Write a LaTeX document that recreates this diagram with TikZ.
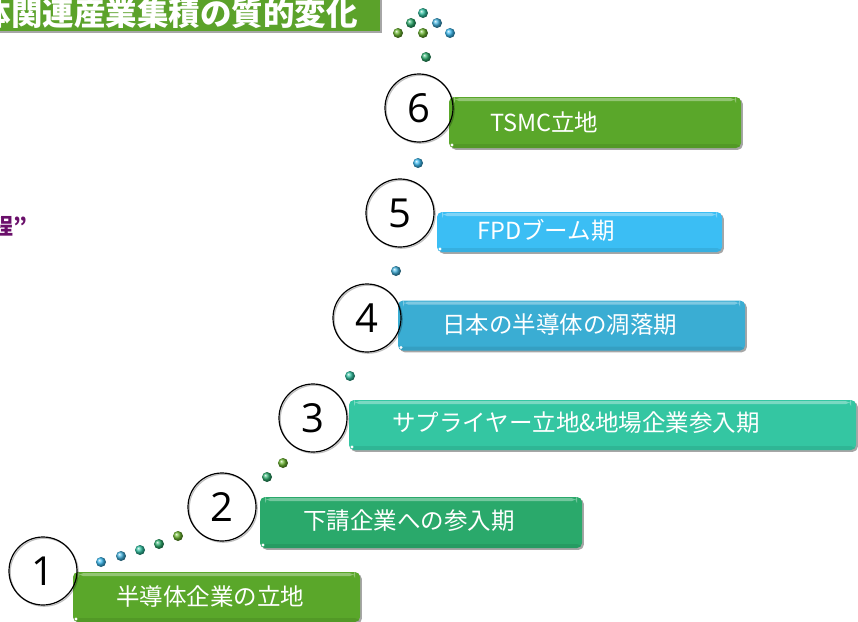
\documentclass[tikz,border=0pt]{standalone}
\usepackage{fontspec}
\newfontfamily\jp{Noto Sans CJK JP}
\newfontfamily\numf{Open Sans}
\usetikzlibrary{shadows}
\definecolor{gA}{HTML}{5AA72A}
\definecolor{gB}{HTML}{2AA96B}
\definecolor{gC}{HTML}{34C6A2}
\definecolor{gD}{HTML}{3AADD3}
\definecolor{gE}{HTML}{3BBEF4}
\definecolor{ttl}{HTML}{5BA22A}
\definecolor{purp}{HTML}{6A0F6A}
\definecolor{dLB}{HTML}{3BBAF0}
\definecolor{dB}{HTML}{40B0DC}
\definecolor{dT}{HTML}{30C0A0}
\definecolor{dGT}{HTML}{2DAE6E}
\definecolor{dG}{HTML}{6AB52E}
\begin{document}
\begin{tikzpicture}[x=1pt,y=-1pt,
  stagebox/.style={rectangle, draw=none, rounded corners=5pt, inner sep=0pt,
    drop shadow={shadow xshift=1.8pt,shadow yshift=-1.8pt,opacity=0.35,fill=black},
    path picture={
      \fill[white,opacity=0.35] ([xshift=5pt,yshift=-1.2pt]path picture bounding box.north west) rectangle ([xshift=-5pt,yshift=-4pt]path picture bounding box.north east);
      \fill[black,opacity=0.08] ([yshift=4pt]path picture bounding box.south west) rectangle (path picture bounding box.south east);
      \fill[white] ([xshift=3pt,yshift=3pt]path picture bounding box.south west) circle (1.6pt);
    }},
  stagetext/.style={anchor=west, text=white, inner sep=0pt, font=\jp\fontsize{23.5}{25}\selectfont},
  numcirc/.style={circle, draw=black, line width=1.2pt, minimum size=68pt, inner sep=0pt, font=\numf\fontsize{40}{40}\selectfont,
    drop shadow={shadow xshift=1.2pt,shadow yshift=-1.2pt,opacity=0.25,fill=none,draw=black}},
  dot/.style={circle, draw=none, minimum size=10pt, inner sep=0pt, shading=ball}]
\useasboundingbox (0,0) rectangle (858,621);
\clip (0,0) rectangle (858,621);
\fill[white] (0,0) rectangle (858,621);

% title banner
\node[rectangle, fill=ttl, inner sep=0pt, minimum width=400pt, minimum height=42pt,
  drop shadow={shadow xshift=1.8pt,shadow yshift=-1.8pt,opacity=0.35,fill=black}] (banner) at (180,10) {};
\node[anchor=east, text=white, inner sep=0pt, font=\jp\bfseries\fontsize{31.5}{33}\selectfont] (title) at (358,14) {半導体関連産業集積の質的変化};

% purple text
\node[anchor=east, text=purp, inner sep=0pt, font=\jp\bfseries\fontsize{22}{23}\selectfont] (purple) at (28,226) {過程”};

% boxes
\node[stagebox, fill=gA, minimum width=287pt, minimum height=50pt] (b1) at (216.5,597) {};
\node[stagebox, fill=gB, minimum width=322pt, minimum height=51pt] (b2) at (421,522.5) {};
\node[stagebox, fill=gC, minimum width=507pt, minimum height=50pt] (b3) at (602.5,425) {};
\node[stagebox, fill=gD, minimum width=347pt, minimum height=50pt] (b4) at (571.5,325.5) {};
\node[stagebox, fill=gE, minimum width=285pt, minimum height=40pt] (b5) at (579.5,232) {};
\node[stagebox, fill=gA, minimum width=292pt, minimum height=51pt] (b6) at (595,122.5) {};

% texts
\node[stagetext] (t1) at (116,597) {半導体企業の立地};
\node[stagetext] (t2) at (303,521) {下請企業への参入期};
\node[stagetext] (t3) at (392,423) {サプライヤー立地\&地場企業参入期};
\node[stagetext] (t4) at (442,325) {日本の半導体の凋落期};
\node[stagetext] (t5) at (477,230) {FPDブーム期};
\node[stagetext] (t6) at (490,122) {TSMC立地};

% circles
\node[numcirc] (c1) at (43,571) {1};
\node[numcirc] (c2) at (222,507) {2};
\node[numcirc] (c3) at (313,418) {3};
\node[numcirc] (c4) at (367,318) {4};
\node[numcirc] (c5) at (400,213) {5};
\node[numcirc] (c6) at (419,108) {6};

% dots
\node[dot, ball color=dLB] (d1) at (101,562) {};
\node[dot, ball color=dB] (d2) at (121,556) {};
\node[dot, ball color=dT] (d3) at (140,550) {};
\node[dot, ball color=dGT] (d4) at (159,544) {};
\node[dot, ball color=dG] (d5) at (178,536) {};
\node[dot, ball color=dGT] (d6) at (267,477) {};
\node[dot, ball color=dG] (d7) at (283,463) {};
\node[dot, ball color=dT] (d8) at (350,376) {};
\node[dot, ball color=dB] (d9) at (396,271) {};
\node[dot, ball color=dLB] (d10) at (418,163) {};
\node[dot, ball color=dT] (e1) at (423,13) {};
\node[dot, ball color=dGT] (e2) at (411,23) {};
\node[dot, ball color=dB] (e3) at (437,23) {};
\node[dot, ball color=dG] (e4) at (398,33) {};
\node[dot, ball color=dG] (e5) at (423,33) {};
\node[dot, ball color=dLB] (e6) at (450,33) {};
\node[dot, ball color=dGT] (e7) at (426,57) {};
\end{tikzpicture}
\end{document}
